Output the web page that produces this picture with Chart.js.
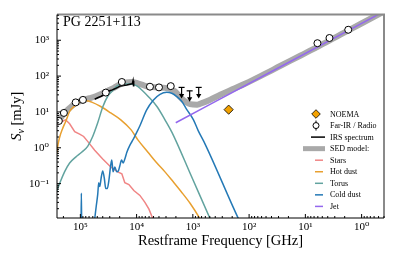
<!DOCTYPE html>
<html>
<head>
<meta charset="utf-8">
<script src="https://cdn.jsdelivr.net/npm/chart.js@4.4.1/dist/chart.umd.min.js"></script>
<style>
  html, body { margin: 0; padding: 0; background: #fff; }
</style>
</head>
<body>
<canvas id="sedChart" width="395" height="263"></canvas>
<script>
const SERIF = "'Liberation Serif', 'DejaVu Serif', serif";

// ---- photometry (restframe GHz, mJy) ----
const firFreq = [2.41e5, 1.96e5, 1.21e5, 9.0e4, 3.53e4, 1.83e4, 5790, 4000, 2470, 6.1, 3.73, 1.73];
const firFlux = [5.6, 9.4, 18.5, 21.7, 34.7, 68.5, 50.6, 48.4, 52.5, 828, 1157, 1963];
const firErr  = [0, 0, 0, 0, 0, 0, 0, 0, 11, 0, 0, 0];

const noemaFreq = [231];
const noemaFlux = [11.6];

// Herschel/SPIRE upper limits
const limFreq = [1585, 1140, 787];
const limFlux = [48.4, 38.8, 48.4];

// ---- IRS spectrum ----
const irsFreq = [5.56e4, 4.91e4, 4.26e4, 3.68e4, 3.32e4, 3.00e4, 2.70e4, 2.44e4, 2.16e4, 1.95e4, 1.72e4, 1.49e4, 1.32e4, 1.19e4, 1.156e4, 1.140e4, 1.117e4];
const irsFlux = [22.7, 24.9, 27.4, 31.1, 35.3, 38.8, 41.3, 44.1, 48.4, 53.2, 55.0, 56.6, 59.3, 61.5, 73.8, 51.5, 62.4];

// ---- SED model and its components ----
const sedFreq = [2.65e5, 2.34e5, 1.99e5, 1.55e5, 1.21e5, 9.10e4, 6.82e4, 5.33e4, 4.17e4, 3.26e4, 2.54e4, 1.99e4, 1.55e4, 1.21e4, 9480, 7410, 5790, 4170, 3130, 2540, 2070, 1760, 1430, 1120, 838, 655, 491, 326, 199, 116, 62.8, 27.6, 12.1, 5.33, 2.34, 1.03, 0.300];
const sedFlux = [5.32, 6.24, 8.81, 12.9, 17.7, 21.3, 24.2, 27.4, 32.1, 38.8, 46.9, 58.5, 66.4, 68.5, 62.4, 55.0, 50.0, 48.4, 46.9, 44.1, 37.6, 28.3, 20.7, 16.6, 16.0, 18.2, 22.0, 30.1, 42.7, 62.4, 100, 194, 376, 729, 1459, 2884, 8128];

const starFreq = [2.65e5, 2.16e5, 1.83e5, 1.55e5, 1.26e5, 1.03e5, 8.73e4, 7.41e4, 5.56e4, 4.00e4, 2.88e4, 2.16e4, 1.83e4, 1.62e4, 1.37e4, 1.12e4, 8730, 7110, 6030, 5120, 4520];
const starFlux = [4.40, 5.32, 6.04, 4.69, 2.83, 2.42, 2.07, 1.51, 0.855, 0.484, 0.292, 0.213, 0.188, 0.106, 0.0940, 0.0643, 0.0469, 0.0301, 0.0194, 0.0103, 0.0055];

const hotFreq = [2.65e5, 2.49e5, 2.34e5, 2.07e5, 1.83e5, 1.55e5, 1.26e5, 9.89e4, 7.73e4, 6.28e4, 4.35e4, 2.88e4, 1.91e4, 1.26e4, 9480, 6280, 4520, 3130, 2250, 1620, 1120, 741, 603];
const hotFlux = [0.664, 1.25, 1.94, 3.42, 5.32, 10.3, 14.6, 19.4, 20.7, 18.8, 14.2, 9.40, 6.04, 3.21, 1.66, 0.753, 0.401, 0.213, 0.114, 0.0604, 0.0283, 0.0103, 0.00585];

const torusFreq = [2.65e5, 2.34e5, 1.91e5, 1.55e5, 1.21e5, 9.48e4, 7.41e4, 6.03e4, 4.91e4, 4.00e4, 3.26e4, 2.65e4, 2.16e4, 1.69e4, 1.32e4, 1.03e4, 8730, 6280, 4350, 3130, 2340, 1070, 491, 400];
const torusFlux = [0.0604, 0.100, 0.213, 0.376, 0.550, 0.753, 1.10, 2.07, 5.00, 13.7, 27.4, 39.8, 55.0, 60.3, 60.3, 55.0, 45.7, 27.4, 14.2, 6.04, 2.66, 0.166, 0.0103, 0.00501];

const coldFreq = [9.75e4, 9.59e4, 9.44e4, 6.03e4, 5.56e4, 5.22e4, 4.91e4, 4.71e4, 4.52e4, 4.26e4, 4.00e4, 3.76e4, 3.53e4, 3.32e4, 3.13e4, 2.88e4, 2.76e4, 2.62e4, 2.44e4, 2.25e4, 2.11e4, 1.99e4, 1.85e4, 1.73e4, 1.62e4, 1.49e4, 1.32e4, 1.15e4, 1.00e4, 8730, 6620, 5060, 3840, 2910, 2370, 1930, 1570, 1280, 975, 804, 603, 153, 126];
const coldFlux = [0.00398, 0.0542, 0.00398, 0.00398, 0.0103, 0.0234, 0.0500, 0.106, 0.0828, 0.146, 0.227, 0.146, 0.0729, 0.0729, 0.114, 0.332, 0.455, 0.213, 0.292, 0.213, 0.227, 0.311, 0.455, 0.376, 0.484, 0.753, 1.17, 1.71, 2.66, 4.13, 11.4, 21.3, 31.1, 35.3, 33.2, 26.9, 19.6, 11.6, 6.04, 3.01, 1.25, 0.0101, 0.00550];

const jetFreq = [2014, 31.6, 0.300];
const jetFlux = [5.0, 163, 8128];

const legendOrder = ['NOEMA', 'Far-IR / Radio', 'IRS spectrum', 'SED model:', 'Stars', 'Hot dust', 'Torus', 'Cold dust', 'Jet'];

function pts(xs, ys) {
  return xs.map((x, i) => ({ x: x, y: ys[i] }));
}

const SUP = { '-': '\u207B', '0': '\u2070', '1': '\u00B9', '2': '\u00B2', '3': '\u00B3', '4': '\u2074', '5': '\u2075', '6': '\u2076' };
function isPow10(v) {
  const e = Math.round(Math.log10(v));
  return Math.abs(v / Math.pow(10, e) - 1) < 1e-6;
}
function powLabel(v) {
  if (!isPow10(v)) return '';
  const e = String(Math.round(Math.log10(v)));
  return '10' + e.split('').map(c => SUP[c]).join('');
}
function logTicks(scale) {
  const ticks = [];
  const e0 = Math.floor(Math.log10(scale.min)), e1 = Math.ceil(Math.log10(scale.max));
  for (let e = e0; e <= e1; e++) {
    for (let k = 1; k < 10; k++) {
      const v = k * Math.pow(10, e);
      if (v >= scale.min && v <= scale.max) ticks.push({ value: v, major: k === 1 });
    }
  }
  scale.ticks = ticks;
}

function line(ctx, x1, y1, x2, y2) {
  ctx.beginPath(); ctx.moveTo(x1, y1); ctx.lineTo(x2, y2); ctx.stroke();
}

// error bars, upper limits, frame, inward ticks, labels and legend
const decor = {
  id: 'decor',
  beforeDatasetDraw(chart, args) {
    if (args.index !== 0) return;
    const ctx = chart.ctx, ys = chart.scales.y;
    ctx.save();
    ctx.strokeStyle = '#000'; ctx.lineWidth = 1;
    args.meta.data.forEach((p, i) => {
      if (!firErr[i]) return;
      line(ctx, p.x, ys.getPixelForValue(firFlux[i] + firErr[i]), p.x, ys.getPixelForValue(firFlux[i] - firErr[i]));
    });
    ctx.restore();
  },
  afterDatasetsDraw(chart) {
    const ctx = chart.ctx;
    ctx.save();
    ctx.strokeStyle = '#000'; ctx.fillStyle = '#000'; ctx.lineWidth = 1.2;
    chart.getDatasetMeta(2).data.forEach(p => {
      line(ctx, p.x - 3, p.y, p.x + 3, p.y);
      line(ctx, p.x, p.y, p.x, p.y + 8);
      ctx.beginPath();
      ctx.moveTo(p.x - 2.6, p.y + 6.5); ctx.lineTo(p.x + 2.6, p.y + 6.5); ctx.lineTo(p.x, p.y + 11);
      ctx.closePath(); ctx.fill();
    });
    ctx.restore();
  },
  afterDraw(chart) {
    const ctx = chart.ctx, ca = chart.chartArea;
    const xs = chart.scales.x, ys = chart.scales.y;
    ctx.save();
    // frame
    ctx.strokeStyle = '#8a8a8a'; ctx.lineWidth = 2;
    ctx.beginPath(); ctx.moveTo(ca.left, ca.top); ctx.lineTo(ca.right, ca.top); ctx.lineTo(ca.right, ca.bottom); ctx.stroke();
    ctx.strokeStyle = '#000'; ctx.lineWidth = 1;
    ctx.beginPath(); ctx.moveTo(ca.left, ca.top); ctx.lineTo(ca.left, ca.bottom); ctx.lineTo(ca.right, ca.bottom); ctx.stroke();
    // inward ticks
    xs.ticks.forEach(t => {
      const p = xs.getPixelForValue(t.value);
      if (p < ca.left || p > ca.right) return;
      line(ctx, p, ca.bottom, p, ca.bottom - (isPow10(t.value) ? 4 : 2));
    });
    ys.ticks.forEach(t => {
      const p = ys.getPixelForValue(t.value);
      if (p < ca.top || p > ca.bottom) return;
      line(ctx, ca.left, p, ca.left + (isPow10(t.value) ? 4 : 2), p);
    });

    // object name
    ctx.fillStyle = '#000';
    ctx.font = '14px ' + SERIF;
    ctx.textBaseline = 'alphabetic';
    ctx.fillText('PG 2251+113', 63, 25.5);

    // y axis title with subscript
    ctx.save();
    ctx.translate(20.5, (ca.top + ca.bottom) / 2);
    ctx.rotate(-Math.PI / 2);
    const big = '14.5px ' + SERIF, small = '10px ' + SERIF;
    ctx.font = 'italic ' + big; const wS = ctx.measureText('S').width;
    ctx.font = 'italic ' + small; const wN = ctx.measureText('\u03BD').width;
    ctx.font = big; const wU = ctx.measureText(' [mJy]').width;
    let x0 = -(wS + wN + wU) / 2;
    ctx.font = 'italic ' + big; ctx.fillText('S', x0, 0);
    ctx.font = 'italic ' + small; ctx.fillText('\u03BD', x0 + wS, 3);
    ctx.font = big; ctx.fillText(' [mJy]', x0 + wS + wN, 0);
    ctx.restore();

    // legend
    ctx.font = '8px ' + SERIF;
    ctx.textBaseline = 'middle';
    legendOrder.forEach((name, i) => {
      const ds = chart.data.datasets.find(d => d.label === name);
      const y = 114 + i * 11.55;
      if (ds.legendKind === 'diamond') {
        ctx.fillStyle = ds.backgroundColor; ctx.strokeStyle = '#000'; ctx.lineWidth = 0.8;
        ctx.beginPath();
        ctx.moveTo(316, y - 4.3); ctx.lineTo(320.3, y); ctx.lineTo(316, y + 4.3); ctx.lineTo(311.7, y);
        ctx.closePath(); ctx.fill(); ctx.stroke();
      } else if (ds.legendKind === 'circle') {
        ctx.strokeStyle = '#000'; ctx.lineWidth = 1;
        line(ctx, 316, y - 5, 316, y + 5);
        ctx.fillStyle = '#fff';
        ctx.beginPath(); ctx.arc(316, y, 3, 0, Math.PI * 2); ctx.fill(); ctx.stroke();
      } else if (ds.legendKind === 'band') {
        ctx.strokeStyle = ds.borderColor; ctx.lineWidth = 5;
        line(ctx, 303, y, 325, y);
      } else if (ds.legendKind === 'irs') {
        ctx.strokeStyle = ds.borderColor; ctx.lineWidth = 1.5;
        line(ctx, 311, y, 325, y);
      } else {
        ctx.strokeStyle = ds.borderColor; ctx.lineWidth = 1.5;
        line(ctx, 315, y, 323, y);
      }
      ctx.fillStyle = '#000';
      ctx.fillText(name, 330, y + 0.5);
    });
    ctx.restore();
  }
};

const compLine = (label, xs, ys, color, extra) => Object.assign({
  type: 'line', label: label, data: pts(xs, ys),
  borderColor: color, borderWidth: 1.5, pointRadius: 0,
  cubicInterpolationMode: 'monotone', fill: false, order: 2
}, extra || {});

new Chart(document.getElementById('sedChart'), {
  type: 'line',
  data: {
    datasets: [
      { type: 'scatter', label: 'Far-IR / Radio', legendKind: 'circle', data: pts(firFreq, firFlux),
        pointStyle: 'circle', pointRadius: 3.5, backgroundColor: '#fff', borderColor: '#000',
        borderWidth: 1, showLine: false, order: 0 },
      { type: 'scatter', label: 'NOEMA', legendKind: 'diamond', data: pts(noemaFreq, noemaFlux),
        pointStyle: 'rectRot', pointRadius: 4.6, backgroundColor: '#f2a100', borderColor: '#000',
        borderWidth: 0.8, showLine: false, order: 0 },
      { type: 'scatter', label: 'Upper limits', data: pts(limFreq, limFlux),
        pointRadius: 0, showLine: false, order: 0 },
      compLine('IRS spectrum', irsFreq, irsFlux, '#000', { legendKind: 'irs', cubicInterpolationMode: 'default', tension: 0, borderWidth: 1.6, order: 1 }),
      compLine('Jet', jetFreq, jetFlux, '#9468ee'),
      compLine('Cold dust', coldFreq, coldFlux, '#2479b6'),
      compLine('Torus', torusFreq, torusFlux, '#62a39f'),
      compLine('Hot dust', hotFreq, hotFlux, '#e8a030'),
      compLine('Stars', starFreq, starFlux, '#f08585', { cubicInterpolationMode: 'default', tension: 0 }),
      compLine('SED model:', sedFreq, sedFlux, '#a9a9a9', { legendKind: 'band', borderWidth: 6, borderCapStyle: 'round', order: 5 })
    ]
  },
  options: {
    responsive: false,
    animation: false,
    events: [],
    devicePixelRatio: 1,
    layout: { padding: { left: 0, right: 11, top: 10, bottom: 0 } },
    plugins: { legend: { display: false }, tooltip: { enabled: false } },
    scales: {
      x: {
        type: 'logarithmic', reverse: true, min: 0.4, max: 2.6e5,
        grid: { display: false, drawTicks: false }, border: { display: false },
        afterBuildTicks: logTicks,
        afterFit: s => { s.height = 45; },
        ticks: { autoSkip: false, maxRotation: 0, padding: 3, color: '#000',
          font: { family: SERIF, size: 11 }, callback: v => powLabel(v) },
        title: { display: true, text: 'Restframe Frequency [GHz]', color: '#000',
          font: { family: SERIF, size: 14.5 }, padding: { top: 0, bottom: 13 } }
      },
      y: {
        type: 'logarithmic', min: 0.011, max: 5200,
        grid: { display: false, drawTicks: false }, border: { display: false },
        afterBuildTicks: logTicks,
        afterFit: s => { s.width = 57; },
        ticks: { autoSkip: false, padding: 8, color: '#000',
          font: { family: SERIF, size: 11 }, callback: v => powLabel(v) }
      }
    }
  },
  plugins: [decor]
});
</script>
</body>
</html>
